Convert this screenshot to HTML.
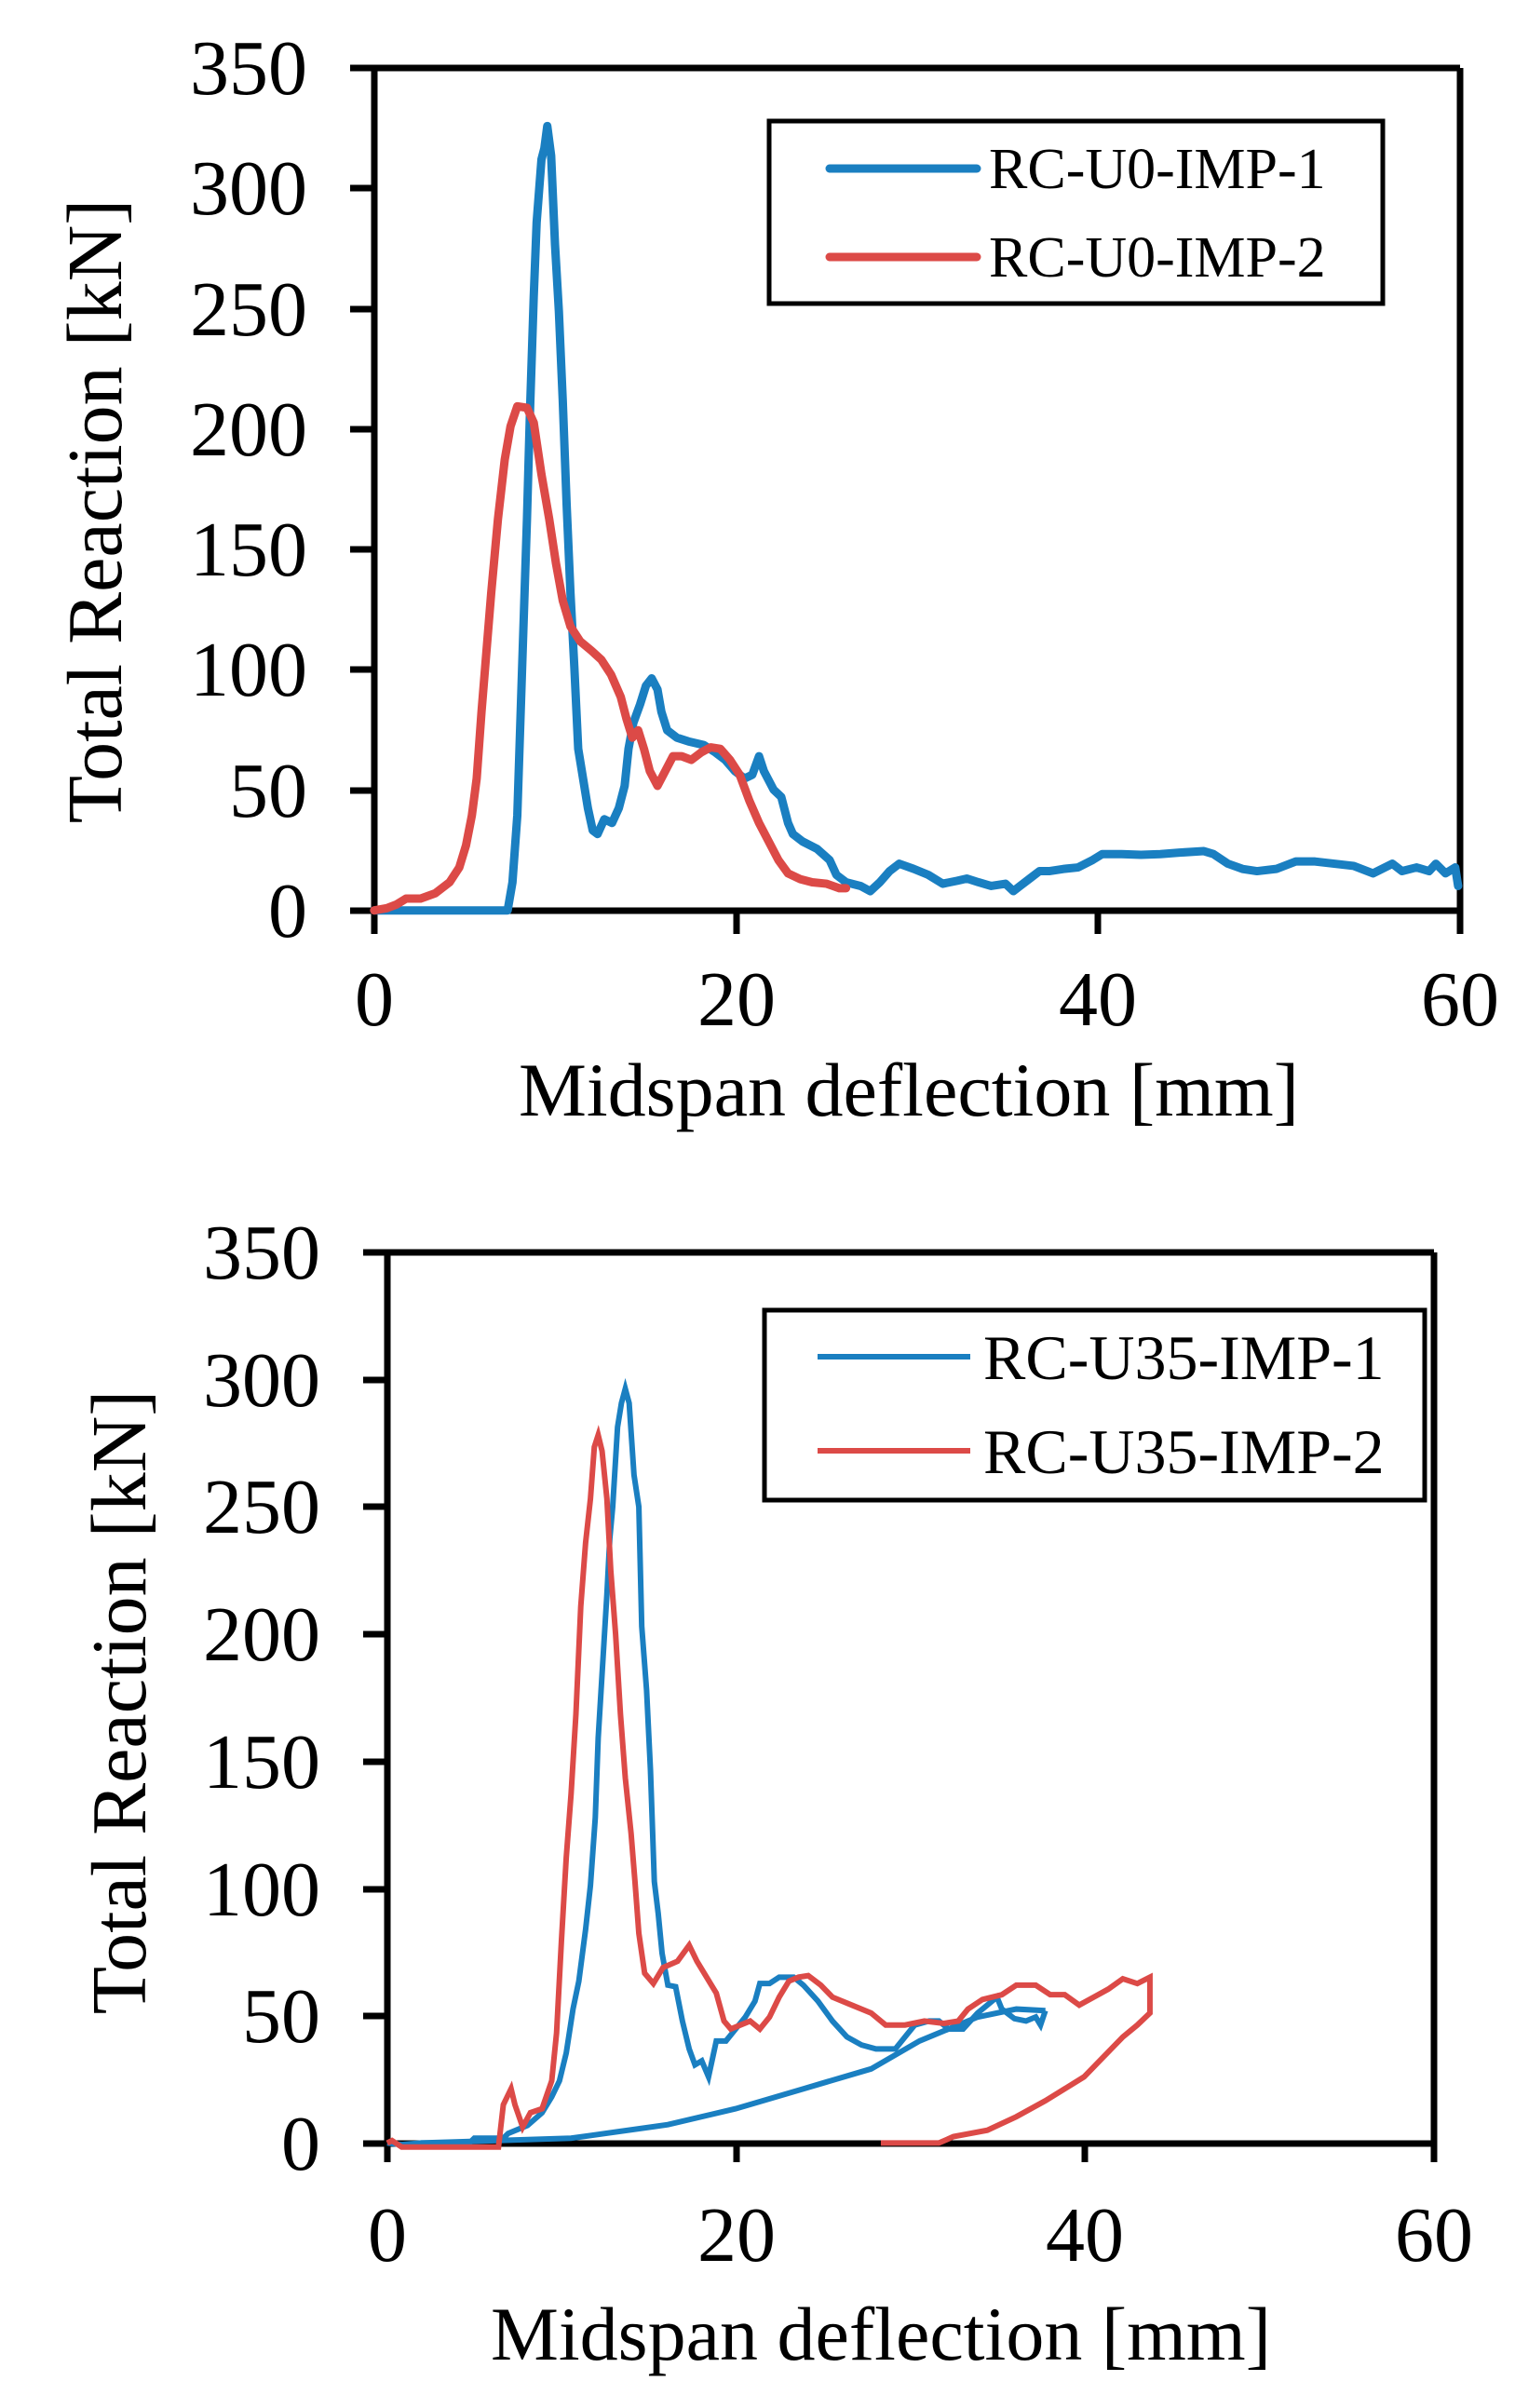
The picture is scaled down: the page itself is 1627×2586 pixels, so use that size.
<!DOCTYPE html>
<html><head><meta charset="utf-8"><style>
html,body{margin:0;padding:0;background:#fff;}
svg{display:block;}
text{font-family:"Liberation Serif",serif;fill:#000;}
</style></head><body>
<svg width="1627" height="2586" viewBox="0 0 1627 2586" xmlns="http://www.w3.org/2000/svg">
<!-- TOP CHART -->
<g stroke="#000" stroke-width="7" fill="none">
<line x1="402" y1="73" x2="402" y2="978"/>
<line x1="399" y1="73" x2="1568" y2="73"/>
<line x1="1568" y1="73" x2="1568" y2="1003"/>
<line x1="376" y1="978" x2="1571" y2="978"/>
<line x1="376" y1="73" x2="402" y2="73"/>
<line x1="376" y1="202" x2="402" y2="202"/>
<line x1="376" y1="332" x2="402" y2="332"/>
<line x1="376" y1="461" x2="402" y2="461"/>
<line x1="376" y1="590" x2="402" y2="590"/>
<line x1="376" y1="719" x2="402" y2="719"/>
<line x1="376" y1="849" x2="402" y2="849"/>
<line x1="402" y1="978" x2="402" y2="1003"/>
<line x1="791" y1="978" x2="791" y2="1003"/>
<line x1="1179" y1="978" x2="1179" y2="1003"/>
</g>
<g font-size="84" text-anchor="end">
<text x="330" y="101">350</text>
<text x="330" y="230">300</text>
<text x="330" y="360">250</text>
<text x="330" y="489">200</text>
<text x="330" y="618">150</text>
<text x="330" y="747">100</text>
<text x="330" y="877">50</text>
<text x="330" y="1006">0</text>
</g>
<g font-size="84" text-anchor="middle">
<text x="402" y="1101">0</text>
<text x="791" y="1101">20</text>
<text x="1179" y="1101">40</text>
<text x="1568" y="1101">60</text>
<text x="976" y="1198" font-size="82">Midspan deflection [mm]</text>
<text transform="translate(130,549) rotate(-90)" font-size="84">Total Reaction [kN]</text>
</g>
<g transform="scale(1.0384,0.7962)" fill="none" stroke-linejoin="round" stroke-linecap="round">
<polyline vector-effect="non-scaling-stroke" stroke="#1a7fc1" stroke-width="9" points="387,1228 525,1228 530,1190 535,1100 540,900 545,700 548,560 552,400 555,300 560,215 563,200 566,170 570,210 574,330 578,420 582,540 586,680 590,800 594,900 598,1010 603,1050 608,1090 613,1120 618,1125 625,1105 633,1110 640,1090 646,1060 650,1010 655,975 662,950 668,925 674,915 680,930 684,960 690,985 700,995 712,1000 728,1005 740,1015 750,1025 760,1040 770,1050 778,1045 785,1020 790,1040 800,1065 808,1075 815,1110 820,1125 830,1135 845,1145 858,1160 865,1180 875,1190 890,1195 900,1202 910,1190 920,1175 930,1165 945,1172 960,1180 975,1192 990,1188 1000,1185 1012,1190 1025,1195 1040,1192 1048,1202 1055,1195 1065,1185 1075,1175 1085,1175 1100,1172 1115,1170 1130,1160 1140,1152 1160,1152 1180,1153 1200,1152 1220,1150 1245,1148 1255,1152 1270,1165 1285,1172 1300,1175 1320,1172 1340,1162 1360,1162 1380,1165 1400,1168 1420,1178 1440,1165 1450,1175 1465,1170 1478,1175 1485,1165 1495,1178 1505,1170 1508,1195"/>
<polyline vector-effect="non-scaling-stroke" stroke="#dc4a47" stroke-width="9" points="387,1228 400,1225 410,1220 420,1212 435,1212 450,1205 465,1190 475,1170 482,1140 488,1100 493,1050 498,960 503,880 508,800 515,700 522,620 528,575 535,548 545,550 552,570 560,640 568,700 575,760 582,810 590,845 600,865 612,878 622,890 632,910 642,940 648,970 654,995 660,985 666,1010 672,1040 680,1060 688,1040 696,1020 705,1020 715,1025 725,1015 735,1008 745,1010 755,1025 765,1045 775,1080 785,1110 795,1135 805,1160 815,1178 828,1186 840,1190 855,1192 868,1198 875,1198"/>
</g>
<rect x="826" y="130" width="659" height="196" fill="none" stroke="#000" stroke-width="5"/>
<line x1="891" y1="181" x2="1049" y2="181" stroke="#1a7fc1" stroke-width="9" stroke-linecap="round"/>
<line x1="891" y1="276" x2="1049" y2="276" stroke="#dc4a47" stroke-width="9" stroke-linecap="round"/>
<text x="1062" y="202" font-size="62">RC-U0-IMP-1</text>
<text x="1062" y="297" font-size="62">RC-U0-IMP-2</text>

<!-- BOTTOM CHART -->
<g stroke="#000" stroke-width="7" fill="none">
<line x1="416" y1="1345" x2="416" y2="2302"/>
<line x1="413" y1="1345" x2="1540" y2="1345"/>
<line x1="1540" y1="1345" x2="1540" y2="2322"/>
<line x1="390" y1="2302" x2="1543" y2="2302"/>
<line x1="390" y1="1345" x2="416" y2="1345"/>
<line x1="390" y1="1482" x2="416" y2="1482"/>
<line x1="390" y1="1618" x2="416" y2="1618"/>
<line x1="390" y1="1755" x2="416" y2="1755"/>
<line x1="390" y1="1892" x2="416" y2="1892"/>
<line x1="390" y1="2029" x2="416" y2="2029"/>
<line x1="390" y1="2165" x2="416" y2="2165"/>
<line x1="416" y1="2302" x2="416" y2="2322"/>
<line x1="791" y1="2302" x2="791" y2="2322"/>
<line x1="1165" y1="2302" x2="1165" y2="2322"/>
</g>
<g font-size="84" text-anchor="end">
<text x="344" y="1373">350</text>
<text x="344" y="1510">300</text>
<text x="344" y="1646">250</text>
<text x="344" y="1783">200</text>
<text x="344" y="1920">150</text>
<text x="344" y="2057">100</text>
<text x="344" y="2193">50</text>
<text x="344" y="2330">0</text>
</g>
<g font-size="84" text-anchor="middle">
<text x="416" y="2428">0</text>
<text x="791" y="2428">20</text>
<text x="1165" y="2428">40</text>
<text x="1540" y="2428">60</text>
<text x="946" y="2534" font-size="82">Midspan deflection [mm]</text>
<text transform="translate(156,1828) rotate(-90)" font-size="84">Total Reaction [kN]</text>
</g>
<g transform="translate(0,1250) scale(1.0395,0.8562)" fill="none" stroke-linejoin="miter">
<polyline vector-effect="non-scaling-stroke" stroke="#1a7fc1" stroke-width="6" points="400,1228 415,1230 435,1228 485,1228 490,1222 520,1222 525,1216 545,1206 560,1190 570,1170 578,1150 585,1115 592,1060 598,1025 605,960 610,905 615,820 618,720 621,660 624,600 627,540 630,470 633,430 638,330 642,300 646,282 650,300 655,390 660,430 663,580 668,660 672,760 676,900 680,940 684,990 690,1030 698,1032 705,1075 712,1110 718,1130 725,1125 732,1145 740,1100 750,1100 760,1085 770,1070 780,1050 785,1028 795,1028 805,1020 820,1020 830,1030 845,1050 860,1075 875,1095 890,1105 905,1110 925,1110 935,1095 945,1080 960,1075 970,1075 980,1085 995,1085 1010,1065 1020,1055 1030,1045 1035,1060 1048,1072 1060,1075 1070,1070 1075,1080 1080,1062"/>
<polyline vector-effect="non-scaling-stroke" stroke="#1a7fc1" stroke-width="6" points="435,1228 590,1222 690,1205 760,1185 830,1160 900,1135 950,1100 1010,1070 1050,1060 1080,1062"/>
<polyline vector-effect="non-scaling-stroke" stroke="#dc4a47" stroke-width="6" points="400,1228 405,1225 415,1233 515,1233 520,1180 528,1160 532,1180 540,1208 548,1190 560,1185 570,1150 575,1090 580,975 585,870 590,790 595,690 600,555 605,475 610,420 614,355 618,340 622,360 627,420 631,510 636,590 641,690 646,770 652,840 656,900 660,965 666,1015 675,1028 685,1008 700,1000 712,980 720,1000 730,1020 740,1040 748,1075 755,1085 765,1080 775,1075 785,1085 795,1070 805,1045 815,1025 825,1020 835,1018 848,1030 860,1045 880,1055 900,1065 915,1080 935,1080 955,1075 975,1078 990,1075 1000,1060 1015,1048 1035,1042 1050,1030 1070,1030 1085,1042 1100,1042 1115,1055 1130,1045 1145,1035 1160,1022 1175,1028 1188,1020 1188,1065 1175,1080 1160,1095 1140,1120 1120,1145 1100,1160 1080,1175 1050,1195 1020,1212 985,1220 970,1228 910,1228"/>
</g>
<rect x="821" y="1407" width="709" height="204" fill="none" stroke="#000" stroke-width="5"/>
<line x1="878" y1="1457" x2="1042" y2="1457" stroke="#1a7fc1" stroke-width="6"/>
<line x1="878" y1="1558" x2="1042" y2="1558" stroke="#dc4a47" stroke-width="6"/>
<text x="1056" y="1481" font-size="68">RC-U35-IMP-1</text>
<text x="1056" y="1582" font-size="68">RC-U35-IMP-2</text>
</svg>
</body></html>
